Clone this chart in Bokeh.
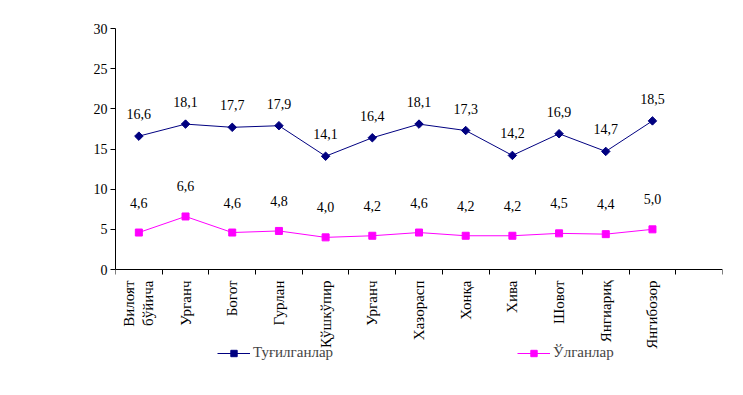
from bokeh.plotting import figure
from bokeh.models import (ColumnDataSource, FixedTicker, LabelSet, Legend, LegendItem, Range1d)
from bokeh.core.properties import value
from bokeh.embed import file_html
from bokeh.resources import INLINE
import math

categories = ["Вилоят\nбўйича", "Урганч", "Богот", "Гурлан", "Қўшкўпир", "Урганч",
              "Хазорасп", "Хонқа", "Хива", "Шовот", "Янгиариқ", "Янгибозор"]
born = [16.6, 18.1, 17.7, 17.9, 14.1, 16.4, 18.1, 17.3, 14.2, 16.9, 14.7, 18.5]
died = [4.6, 6.6, 4.6, 4.8, 4.0, 4.2, 4.6, 4.2, 4.2, 4.5, 4.4, 5.0]
y_ticks = [0, 5, 10, 15, 20, 25, 30]
n_slots = len(categories) + 1

FONT = "Liberation Serif"
xs = [i + 0.5 for i in range(len(categories))]

# plot area geometry (pixels): data area 241 px tall, extra 110 px below zero for labels/legend
DATA_H = 241
EXTRA_H = 110
Y_MAX = 30
y_bottom = -Y_MAX * EXTRA_H / DATA_H

def fmt(v):
    return f"{v:.1f}".replace(".", ",")

src = ColumnDataSource(dict(
    x=xs, born=born, died=died,
    born_lbl=[fmt(v) for v in born], died_lbl=[fmt(v) for v in died]))

p = figure(frame_width=607, frame_height=DATA_H + EXTRA_H, output_backend="svg",
           toolbar_location=None,
           x_range=Range1d(0, n_slots), y_range=Range1d(y_bottom, Y_MAX),
           min_border_left=115, min_border_right=5, min_border_top=28, min_border_bottom=0)
p.outline_line_color = None
p.grid.visible = False
p.background_fill_color = "white"

# y axis
p.yaxis.ticker = FixedTicker(ticks=y_ticks)
p.yaxis.bounds = (0, Y_MAX)
p.yaxis.major_tick_out = 5
p.yaxis.major_tick_in = 0
p.yaxis.minor_tick_line_color = None
p.yaxis.axis_line_color = "black"
p.yaxis.major_label_text_font = FONT
p.yaxis.major_label_text_font_size = "14px"
p.yaxis.major_label_text_color = "black"
p.yaxis.major_label_standoff = 3

# x axis, drawn at y = 0
p.xaxis.fixed_location = 0
p.xaxis.axis_label = None
p.xaxis.ticker = FixedTicker(ticks=xs, minor_ticks=list(range(n_slots + 1)))
p.xaxis.major_label_overrides = {x: c for x, c in zip(xs, categories)}
p.xaxis.major_tick_out = 0
p.xaxis.major_tick_in = 0
p.xaxis.minor_tick_out = 5
p.xaxis.minor_tick_in = 0
p.xaxis.minor_tick_line_color = "black"
p.xaxis.axis_line_color = "black"
p.xaxis.major_label_orientation = math.pi / 2
p.xaxis.major_label_text_font = FONT
p.xaxis.major_label_text_font_size = "15px"
p.xaxis.major_label_text_color = "black"
p.xaxis.major_label_standoff = 6

l1 = p.line("x", "born", source=src, line_color="#000080", line_width=1)
m1 = p.scatter("x", "born", source=src, marker="square", angle=math.pi / 4, size=6,
               fill_color="#000080", line_color="#000080")
l2 = p.line("x", "died", source=src, line_color="#FF00FF", line_width=1)
m2 = p.scatter("x", "died", source=src, marker="square", size=7,
               fill_color="#FF00FF", line_color="#FF00FF")

for ycol, col, off in (("born", "born_lbl", 22), ("died", "died_lbl", 30)):
    p.add_layout(LabelSet(x="x", y=ycol, text=col, source=src, y_offset=off,
                          text_align="center", text_baseline="middle",
                          text_font=value(FONT), text_font_size="14px", text_color="black"))

lg = Legend(items=[LegendItem(label="Туғилганлар", renderers=[l1, m1]),
                   LegendItem(label="Ўлганлар", renderers=[l2, m2])],
            orientation="horizontal", location=(102, 18),
            border_line_color=None, background_fill_alpha=0, padding=0, margin=0,
            glyph_width=33, glyph_height=16, label_standoff=3, label_width=20,
            spacing=184, label_height=16,
            label_text_font=FONT, label_text_font_size="15px")
p.add_layout(lg, "center")

open("out.html", "w").write(file_html(p, INLINE))
